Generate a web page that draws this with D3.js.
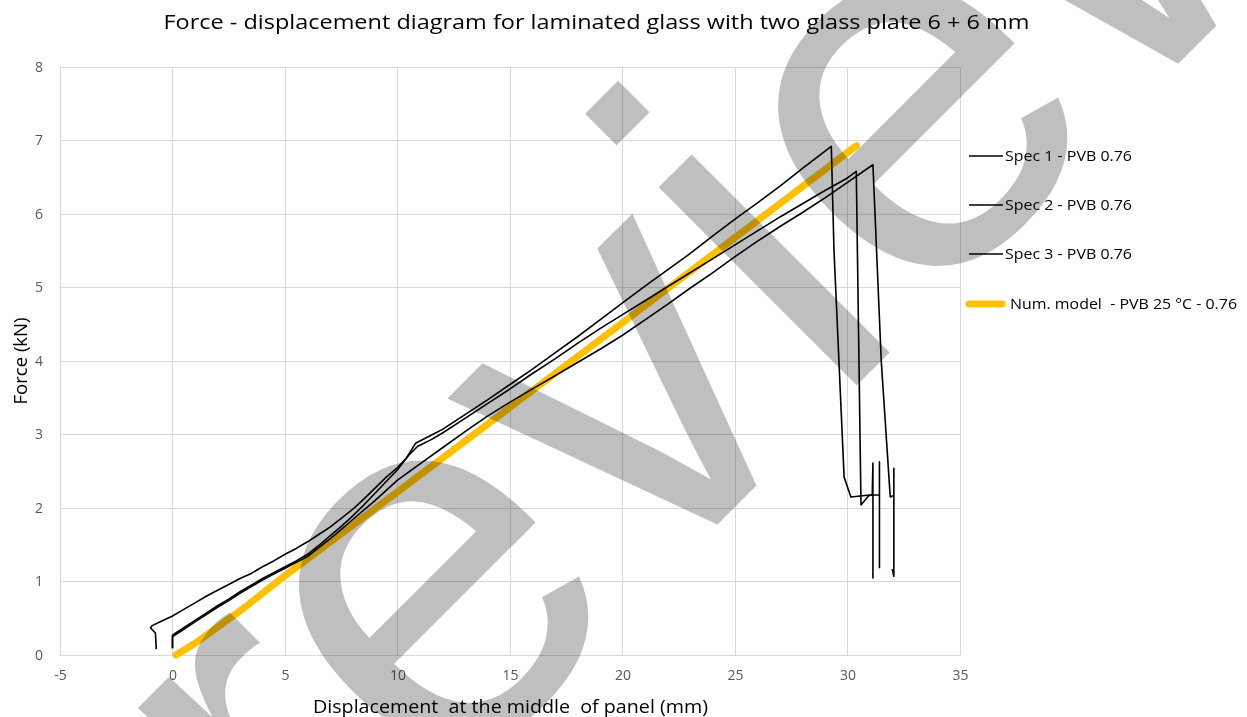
<!DOCTYPE html>
<html><head><meta charset="utf-8">
<script src="https://cdn.jsdelivr.net/npm/d3@7"></script>
<style>
html,body{margin:0;padding:0;background:#fff;}
svg{display:block;}
text{white-space:pre;}
</style></head>
<body>
<svg id="chart" width="1247" height="717"></svg>
<script>
const title = "Force - displacement diagram for laminated glass with two glass plate 6 + 6 mm";
const xLabel = "Displacement  at the middle  of panel (mm)";
const yLabel = "Force (kN)";
const xTicks = [-5, 0, 5, 10, 15, 20, 25, 30, 35];
const yTicks = [0, 1, 2, 3, 4, 5, 6, 7, 8];
const seriesNames = ["Spec 1 - PVB 0.76", "Spec 2 - PVB 0.76", "Spec 3 - PVB 0.76", "Num. model  - PVB 25 \u00B0C - 0.76"];

const spec1 = [[-0.72,0.08],[-0.76,0.30],[-0.98,0.37],[-0.9,0.40],[-0.5,0.46],[0,0.53],[0.5,0.62],[1,0.71],[1.5,0.80],[2,0.88],[2.5,0.96],[3,1.04],[3.5,1.11],[4,1.20],[4.5,1.28],[5,1.37],[5.5,1.45],[6,1.54],[6.5,1.64],[7,1.74],[7.5,1.86],[8,1.98],[8.5,2.12],[9,2.27],[9.5,2.42],[10,2.55],[10.4,2.68],[10.8,2.88],[11.3,2.96],[12,3.07],[13,3.27],[14,3.47],[15,3.68],[16,3.89],[17,4.11],[18,4.33],[19,4.56],[20,4.79],[21,5.02],[22,5.24],[23,5.46],[24,5.70],[25,5.93],[26,6.15],[27,6.38],[28,6.62],[29.28,6.92],[29.4,5.5],[29.85,2.42],[30.15,2.15],[31.1,2.18],[31.13,2.61],[31.13,1.04]];
const spec2 = [[0,0.09],[0,0.27],[0.3,0.33],[1,0.47],[1.5,0.57],[2,0.67],[2.5,0.76],[3,0.86],[3.5,0.95],[4,1.04],[4.5,1.12],[5,1.20],[5.5,1.28],[6,1.37],[6.5,1.49],[7,1.62],[7.5,1.75],[8,1.89],[8.5,2.04],[9,2.20],[9.5,2.36],[10,2.52],[10.5,2.72],[10.9,2.84],[11.5,2.93],[12,3.02],[13,3.22],[14,3.42],[15,3.62],[16,3.83],[17,4.03],[18,4.24],[19,4.44],[20,4.63],[21,4.82],[22,5.01],[23,5.20],[24,5.39],[25,5.58],[26,5.77],[27,5.96],[28,6.14],[29,6.32],[30,6.49],[30.39,6.58],[30.6,2.04],[30.95,2.17],[31.42,2.18],[31.42,2.63],[31.42,1.18]];
const spec3 = [[0,0.10],[0,0.25],[0.3,0.31],[1,0.45],[1.5,0.55],[2,0.65],[2.5,0.74],[3,0.84],[3.5,0.93],[4,1.02],[4.5,1.10],[5,1.18],[5.5,1.26],[6,1.34],[6.5,1.46],[7,1.58],[7.5,1.71],[8,1.84],[8.5,1.97],[9,2.10],[9.5,2.24],[10,2.38],[11,2.60],[12,2.82],[13,3.04],[14,3.25],[15,3.44],[16,3.62],[17,3.80],[18,3.98],[19,4.16],[20,4.35],[21,4.56],[22,4.77],[23,4.99],[24,5.20],[25,5.42],[26,5.63],[27,5.83],[28,6.02],[29,6.22],[30,6.43],[31.13,6.67],[31.5,4.0],[31.9,2.15],[32.06,2.17],[32.06,2.54],[32.06,1.07],[31.99,1.17]];
const model = [[0.15,0],[1,0.16],[2,0.38],[3,0.60],[4,0.84],[5,1.08],[10,2.22],[15,3.37],[20,4.52],[25,5.68],[30.4,6.93]];
const watermark = "review";

const svg = d3.select("#chart");
const x = d3.scaleLinear().domain([-5, 35]).range([60, 960]);
const y = d3.scaleLinear().domain([0, 8]).range([655, 67]);
const font = "'Open Sans', 'Liberation Sans', sans-serif";

// gridlines
svg.append("g").selectAll("line").data(yTicks).join("line")
  .attr("x1", x(-5)).attr("x2", x(35)).attr("y1", d => y(d)).attr("y2", d => y(d))
  .attr("stroke", "#d9d9d9").attr("stroke-width", 1).attr("shape-rendering", "crispEdges");
svg.append("g").selectAll("line").data(xTicks).join("line")
  .attr("y1", y(0)).attr("y2", y(8)).attr("x1", d => x(d)).attr("x2", d => x(d))
  .attr("stroke", "#d9d9d9").attr("stroke-width", 1).attr("shape-rendering", "crispEdges");

// axes tick labels via d3 axes
const xAxis = svg.append("g").attr("transform", `translate(0,${y(0)})`)
  .call(d3.axisBottom(x).tickValues(xTicks).tickSize(0).tickPadding(15).tickFormat(d => String(d)));
xAxis.select(".domain").remove();
xAxis.selectAll("text").attr("fill", "#595959").style("font-family", font).style("font-size", "14px");
const yAxis = svg.append("g").attr("transform", `translate(${x(-5)},0)`)
  .call(d3.axisLeft(y).tickValues(yTicks).tickSize(0).tickPadding(17).tickFormat(d => String(d)));
yAxis.select(".domain").remove();
yAxis.selectAll("text").attr("fill", "#595959").style("font-family", font).style("font-size", "14px");

// lines
const line = d3.line().x(d => x(d[0])).y(d => y(d[1]));
svg.append("path").datum(model).attr("d", line).attr("fill", "none")
  .attr("stroke", "#FFC000").attr("stroke-width", 7).attr("stroke-linecap", "round").attr("stroke-linejoin", "round");
[spec1, spec2, spec3].forEach(s => {
  svg.append("path").datum(s).attr("d", line).attr("fill", "none")
    .attr("stroke", "#000").attr("stroke-width", 1.6).attr("stroke-linejoin", "round");
});

// title and axis labels
svg.append("text").attr("x", 596.5).attr("y", 29).attr("text-anchor", "middle")
  .attr("textLength", 866).attr("lengthAdjust", "spacingAndGlyphs")
  .style("font-family", font).style("font-size", "20px").attr("fill", "#000").text(title);
svg.append("text").attr("x", 510.5).attr("y", 713).attr("text-anchor", "middle")
  .attr("textLength", 395).attr("lengthAdjust", "spacingAndGlyphs")
  .style("font-family", font).style("font-size", "18px").attr("fill", "#000").text(xLabel);
svg.append("text").attr("transform", "translate(27,361) rotate(-90)").attr("text-anchor", "middle")
  .attr("textLength", 87).attr("lengthAdjust", "spacingAndGlyphs")
  .style("font-family", font).style("font-size", "18px").attr("fill", "#000").text(yLabel);

// legend
const legY = [156, 205, 254, 304];
const lg = svg.append("g");
seriesNames.forEach((n, i) => {
  const isModel = i === 3;
  lg.append("line").attr("x1", 969).attr("x2", isModel ? 1002 : 1003)
    .attr("y1", legY[i]).attr("y2", legY[i])
    .attr("stroke", isModel ? "#FFC000" : "#000").attr("stroke-width", isModel ? 7 : 1.6)
    .attr("stroke-linecap", isModel ? "round" : "butt");
  lg.append("text").attr("x", isModel ? 1010 : 1005).attr("y", legY[i] + 5)
    .attr("textLength", isModel ? 227 : 127).attr("lengthAdjust", "spacingAndGlyphs")
    .style("font-family", font).style("font-size", "15px").attr("fill", "#000").text(n);
});

// watermark
svg.append("text").attr("transform", "translate(311,931) rotate(-45)")
  .style("font-family", "'Liberation Sans', Arial, sans-serif").style("font-size", "530px")
  .attr("fill", "#bfbfbf").style("mix-blend-mode", "multiply").text(watermark);
</script>
</body></html>
